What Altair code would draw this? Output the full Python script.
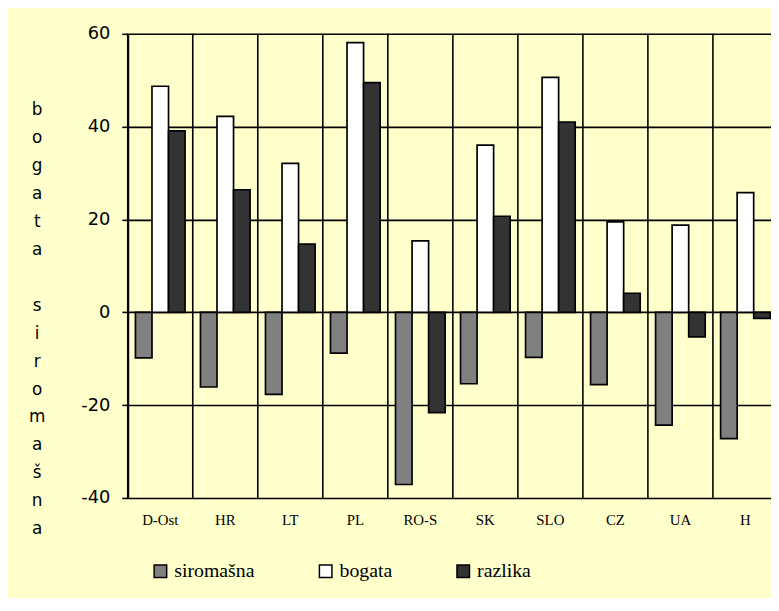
import altair as alt
import pandas as pd

categories = ["D-Ost", "HR", "LT", "PL", "RO-S", "SK", "SLO", "CZ", "UA", "H"]
series = ["siromašna", "bogata", "razlika"]
siromasna = [-9.8, -16.1, -17.7, -8.8, -37.1, -15.4, -9.7, -15.6, -24.3, -27.2]
bogata = [48.7, 42.2, 32.1, 58.1, 15.4, 36.0, 50.6, 19.5, 18.8, 25.8]
razlika = [39.1, 26.4, 14.7, 49.5, -21.6, 20.7, 41.0, 4.1, -5.3, -1.3]
colors = ["#808080", "#FFFFFF", "#333333"]
y_ticks = [-40, -20, 0, 20, 40, 60]
y_title = list("bogata") + ["\u200b"] + list("siromašna")

rows = []
for i, c in enumerate(categories):
    for s, vals in zip(series, [siromasna, bogata, razlika]):
        rows.append({"kategorija": c, "serija": s, "vrijednost": vals[i]})
df = pd.DataFrame(rows)
cats_df = pd.DataFrame({"kategorija": categories})

W, H = 650, 469
xscale = alt.Scale(domain=categories, range=[0, 657], paddingInner=0, paddingOuter=0)
xaxis = alt.Axis(title=None, labelAngle=0, ticks=False, domain=False, grid=False,
                 labelFont="Liberation Serif", labelFontSize=15, labelColor="black",
                 labelPadding=15)
yscale = alt.Scale(domain=[-40, 60], nice=False, zero=False)
yaxis = alt.Axis(values=y_ticks, grid=True, gridColor="black", gridWidth=1.6, gridOpacity=1,
                 domainColor="black", domainWidth=2, tickColor="black", tickSize=6,
                 tickWidth=1.6, labelFont="DejaVu Sans", labelFontSize=18,
                 labelColor="black", labelPadding=12,
                 labelExpr="toString(datum.value)",
                 title=y_title, titleAngle=0, titleX=-92, titleY=69,
                 titleAlign="center", titleBaseline="top", titleLineHeight=28.2,
                 titleFont="DejaVu Sans", titleFontSize=17, titleFontWeight="normal",
                 titleColor="black")

bars = alt.Chart(df).mark_bar(stroke="black", strokeWidth=1.7).encode(
    x=alt.X("kategorija:N", sort=categories, scale=xscale, axis=xaxis),
    xOffset=alt.XOffset("serija:N", sort=series,
                        scale=alt.Scale(domain=series, paddingOuter=0.465, paddingInner=0)),
    y=alt.Y("vrijednost:Q", scale=yscale, axis=yaxis),
    color=alt.Color("serija:N", sort=series,
                    scale=alt.Scale(domain=series, range=colors),
                    legend=alt.Legend(title=None, orient="none", legendX=23, legendY=533,
                                      direction="horizontal", columns=3,
                                      symbolType="square", symbolSize=160,
                                      symbolStrokeColor="black", symbolStrokeWidth=1.5,
                                      symbolOpacity=1, labelOffset=4, columnPadding=61,
                                      labelFont="Liberation Serif", labelFontSize=20,
                                      labelColor="black")),
)

vgrid = alt.Chart(cats_df).mark_rule(color="black", strokeWidth=1.6).encode(
    x=alt.X("kategorija:N", sort=categories, scale=xscale, axis=xaxis, bandPosition=0),
    y=alt.datum(60),
    y2=alt.datum(-40),
)

chart = alt.layer(vgrid, bars).properties(
    width=W, height=H,
    autosize=alt.AutoSizeParams(type="none"),
    padding={"left": 121, "top": 23, "right": 0, "bottom": 98},
    background="#FFFFCC",
).configure_view(strokeWidth=0).configure_legend(
    labelFont="Liberation Serif", labelFontSize=20, labelColor="black"
)

chart.save("out.html", embed_options={"renderer": "svg", "actions": False})
